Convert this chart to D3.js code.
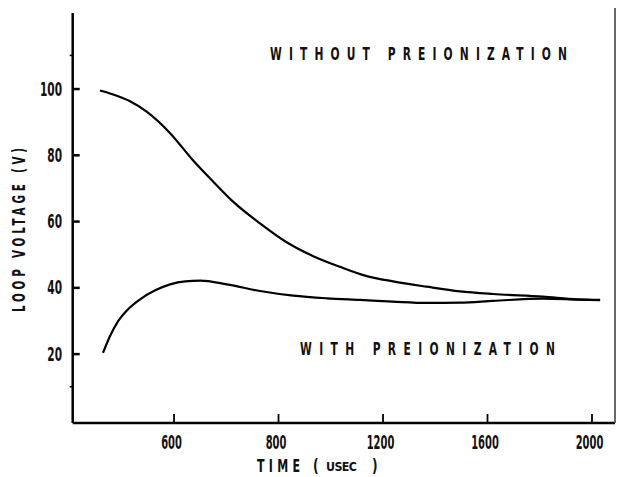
<!DOCTYPE html>
<html>
<head>
<meta charset="utf-8">
<script src="https://cdn.jsdelivr.net/npm/d3@7"></script>
<style>
  html, body { margin: 0; padding: 0; background: #fff; }
  svg { display: block; }
  text { font-family: "DejaVu Sans Condensed", "DejaVu Sans", sans-serif; font-weight: bold; fill: #111; }
</style>
</head>
<body>
<svg id="chart" width="617" height="477"></svg>
<script>
// ---- data (time in usec, voltage in V) ----
const withoutTime = [118, 166, 230, 297, 386, 476, 552, 629, 731, 833, 935, 1037, 1140, 1240, 1369, 1497, 1623, 1814, 1945, 2033];
const withoutVolt = [99.4, 98.3, 96.3, 93.0, 86.6, 78.2, 71.9, 65.8, 59.3, 53.6, 49.4, 46.2, 43.4, 41.8, 40.2, 38.8, 38.0, 37.2, 36.4, 36.2];
const withTime = [130, 157, 188, 226, 272, 330, 387, 445, 502, 604, 731, 858, 986, 1114, 1240, 1369, 1497, 1623, 1814, 1945, 2033];
const withVolt = [20.2, 25.3, 29.8, 33.4, 36.4, 39.1, 40.9, 41.8, 42.0, 40.9, 38.9, 37.5, 36.7, 36.2, 35.7, 35.3, 35.4, 35.9, 36.6, 36.3, 36.1];
const xTickValues = [400, 800, 1200, 1600, 2000];
const xTickLabels = ["600", "800", "1200", "1600", "2000"];
const yTickValues = [20, 40, 60, 80, 100];
const yTickLabels = ["20", "40", "60", "80", "100"];
const yMinorTicks = [10, 110];
const seriesLabels = ["WITHOUT PREIONIZATION", "WITH PREIONIZATION"];
const yTitle = "LOOP VOLTAGE (V)";
const xTitleParts = ["TIME", "(", "USEC", ")"];

const svg = d3.select("#chart");
const x = d3.scaleLinear().domain([14, 2090]).range([72.7, 615]);
const y = d3.scaleLinear().domain([-0.94, 122.8]).range([423, 13]);

// narrow, tall lettering: draw scaled horizontally
function narrowText(px, py, str, size, sx, width, rot) {
  const g = svg.append("g").attr("transform", `translate(${px},${py})` + (rot ? ` rotate(${rot})` : "") + ` scale(${sx},1)`);
  const t = g.append("text").attr("font-size", size).text(str);
  if (width) t.attr("textLength", width / sx).attr("lengthAdjust", "spacing");
  return t;
}

// axes frame
svg.append("line").attr("x1", x(14)).attr("x2", x(14)).attr("y1", y(122.8)).attr("y2", y(-0.94))
  .attr("stroke", "#000").attr("stroke-width", 2.5);
svg.append("line").attr("x1", x(14)).attr("x2", x(2090)).attr("y1", y(-0.94)).attr("y2", y(-0.94))
  .attr("stroke", "#000").attr("stroke-width", 2.5);
svg.append("line").attr("x1", x(2090)).attr("x2", x(2090)).attr("y1", 8).attr("y2", y(-0.94))
  .attr("stroke", "#444").attr("stroke-width", 1.6);

// y ticks (inward) and labels
const yAxis = d3.axisRight(y).tickValues(yTickValues).tickSize(7).tickFormat(() => "");
const gy = svg.append("g").attr("transform", `translate(${x(14)},0)`).call(yAxis);
gy.select(".domain").remove();
gy.selectAll(".tick line").attr("stroke", "#000").attr("stroke-width", 2.5);
yTickValues.forEach((d, i) => {
  narrowText(62, y(d) + 7, yTickLabels[i], 19, 0.62).attr("text-anchor", "end");
});
svg.selectAll(".yminor").data(yMinorTicks).enter().append("line")
  .attr("x1", x(14) - 3).attr("x2", x(14)).attr("y1", d => y(d)).attr("y2", d => y(d))
  .attr("stroke", "#000").attr("stroke-width", 1.5);

// x ticks (inward, upward) and labels
const xAxis = d3.axisTop(x).tickValues(xTickValues).tickSize(9).tickFormat(() => "");
const gx = svg.append("g").attr("transform", `translate(0,${y(-0.94)})`).call(xAxis);
gx.select(".domain").remove();
gx.selectAll(".tick line").attr("stroke", "#000").attr("stroke-width", 1.8);
xTickValues.forEach((d, i) => {
  narrowText(x(d) - 2, 449, xTickLabels[i], 19, 0.58).attr("text-anchor", "middle");
});

// curves
const line = d3.line().x(d => x(d[0])).y(d => y(d[1])).curve(d3.curveMonotoneX);
svg.append("path").datum(d3.zip(withoutTime, withoutVolt)).attr("d", line)
  .attr("fill", "none").attr("stroke", "#000").attr("stroke-width", 2.2);
svg.append("path").datum(d3.zip(withTime, withVolt)).attr("d", line)
  .attr("fill", "none").attr("stroke", "#000").attr("stroke-width", 2.2);

// series annotations
narrowText(270, 60, seriesLabels[0], 18, 0.66, 297);
narrowText(300, 355, seriesLabels[1], 18, 0.66, 255);

// axis titles
narrowText(25, 312, yTitle, 17, 0.68, 164, -90);
narrowText(257, 472, xTitleParts[0], 17, 0.72, 43);
narrowText(313, 472, xTitleParts[1], 17, 0.8);
narrowText(326, 471, xTitleParts[2], 13, 0.95, 31);
narrowText(372, 472, xTitleParts[3], 17, 0.8);
</script>
</body>
</html>
